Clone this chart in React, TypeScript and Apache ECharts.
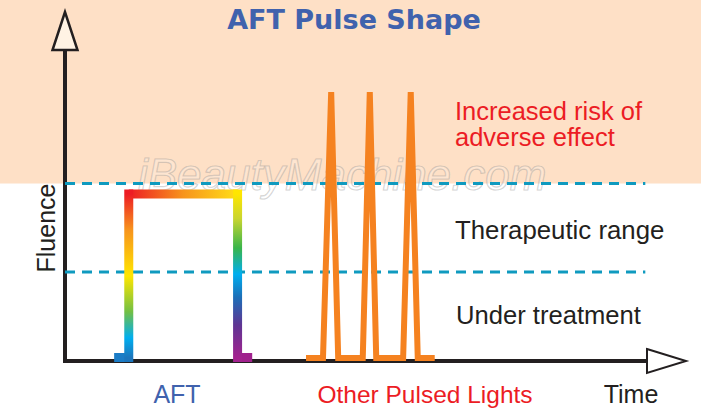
import React, { useEffect, useRef } from "react";
import * as echarts from "echarts";

// ---- text ----
const titleText = "AFT Pulse Shape";
const yAxisName = "Fluence";
const xAxisName = "Time";
const zoneLabels = ["Increased risk of", "adverse effect", "Therapeutic range", "Under treatment"];
const pulseLabels = ["AFT", "Other Pulsed Lights"];
const watermarkText = "iBeautyMachine.com";

// ---- scales ----
const timeRange = [0, 100];
const fluenceRange = [0, 100];
const upperThreshold = 57.1;
const lowerThreshold = 28.6;
const thresholdSpan = [0, 99.2];

// ---- AFT pulse (time, fluence) ----
const aftLeftFoot = [[8.4, 1.1], [10.9, 1.1]];
const aftRise = [[10.9, 1.1], [10.9, 53.7]];
const aftTop = [[10.9, 53.7], [29.5, 53.7]];
const aftFall = [[29.5, 53.7], [29.5, 1.1]];
const aftRightFoot = [[29.5, 1.1], [32.0, 1.1]];

// ---- other pulsed lights ----
const otherTime = [41.2, 44.1, 45.5, 46.7, 50.9, 52.1, 53.2, 57.8, 59.1, 60.3, 63.2];
const otherFluence = [1, 1, 86.5, 1, 1, 86.5, 1, 1, 86.5, 1, 1];

// ---- colours ----
const riseStops: [number, string][] = [
  [0, "#1b75bc"], [0.12, "#00aeef"], [0.28, "#72bf44"], [0.5, "#ffe600"], [0.78, "#f7941d"], [1, "#ed1c24"],
];
const topStops: [number, string][] = [[0, "#ed1c24"], [0.5, "#f7941d"], [1, "#ffde17"]];
const fallStops: [number, string][] = [
  [0, "#ffe600"], [0.15, "#c9d52f"], [0.33, "#39b54a"], [0.49, "#00aeef"], [0.63, "#1c6fb8"], [0.8, "#5e3593"], [1, "#a3228f"],
];

export default function App() {
  const ref = useRef<HTMLDivElement>(null);
  useEffect(() => {
    const el = ref.current!;
    const chart = echarts.init(el, null, { renderer: "svg" });
    const axisCommon = {
      type: "value" as const,
      axisLine: { show: true, lineStyle: { color: "#231f20", width: 4, cap: "square" } },
      axisTick: { show: false },
      axisLabel: { show: false },
      splitLine: { show: false },
    };
    const dashStyle = { color: "#0f9abf", width: 3, type: [10, 7] };
    const line = (name: string, data: number[][], lineStyle: any) => ({
      name,
      type: "line",
      data,
      symbol: "none",
      silent: true,
      lineStyle,
    });
    chart.setOption({
      animation: false,
      backgroundColor: "#ffffff",
      grid: { left: 65, right: 51, top: 50, bottom: 48 },
      xAxis: { ...axisCommon, min: timeRange[0], max: timeRange[1] },
      yAxis: { ...axisCommon, min: fluenceRange[0], max: fluenceRange[1] },
      series: [
        line("upper", thresholdSpan.map((t) => [t, upperThreshold]), dashStyle),
        line("lower", thresholdSpan.map((t) => [t, lowerThreshold]), dashStyle),
        line("other", otherTime.map((t, i) => [t, otherFluence[i]]), { color: "#f58220", width: 6, join: "miter" }),
        line("aftLeftFoot", aftLeftFoot, { color: "#1b7cc6", width: 9 }),
        line("aftRightFoot", aftRightFoot, { color: "#a0218d", width: 9 }),
        line("aftTop", aftTop, { color: "#f7941d", width: 9 }),
        line("aftRise", aftRise, { color: "#ffe600", width: 9, cap: "square" }),
        line("aftFall", aftFall, { color: "#39b54a", width: 9, cap: "square" }),
      ],
    });

    const px = (p: number[]) => chart.convertToPixel({ gridIndex: 0 }, p) as number[];
    const grad = (seg: number[][], stops: [number, string][]) => {
      const a = px(seg[0]);
      const b = px(seg[1]);
      return new echarts.graphic.LinearGradient(
        a[0], a[1], b[0], b[1],
        stops.map(([offset, color]) => ({ offset, color })),
        true
      );
    };
    const origin = px([timeRange[0], fluenceRange[0]]);
    const yTop = px([timeRange[0], fluenceRange[1]]);
    const xEnd = px([timeRange[1], fluenceRange[0]]);
    const upperPx = px([0, upperThreshold])[1];
    const W = el.clientWidth;

    const txt = (text: string, x: number, y: number, fill: string, align = "left", size = 25) => ({
      type: "text",
      x,
      y,
      z: 20,
      silent: true,
      style: {
        text, fill, align, verticalAlign: "middle",
        fontFamily: "Liberation Sans, Arial, sans-serif", fontSize: size,
      },
    });

    chart.setOption({
      series: [
        {},
        {},
        {},
        {},
        {},
        { lineStyle: { color: grad(aftTop, topStops) } },
        { lineStyle: { color: grad(aftRise, riseStops) } },
        { lineStyle: { color: grad(aftFall, fallStops) } },
      ],
      graphic: [
        {
          type: "rect",
          z: -10,
          silent: true,
          shape: { x: 0, y: 0, width: W, height: upperPx },
          style: { fill: "#fee0c6" },
        },
        {
          type: "text",
          z: -5,
          silent: true,
          x: 138,
          y: 174,
          style: {
            text: watermarkText,
            fontFamily: "Liberation Sans, Arial, sans-serif",
            fontSize: 44,
            fontStyle: "italic",
            fill: "rgba(255,255,255,0.2)",
            stroke: "rgba(140,140,140,0.4)",
            lineWidth: 1.2,
            verticalAlign: "middle",
          },
        },
        {
          type: "polygon",
          z: 20,
          silent: true,
          shape: { points: [[yTop[0], yTop[1] - 38], [yTop[0] - 12.5, yTop[1]], [yTop[0] + 12.5, yTop[1]]] },
          style: { fill: "#fff3e4", stroke: "#231f20", lineWidth: 2.5 },
        },
        {
          type: "polygon",
          z: 20,
          silent: true,
          shape: { points: [[xEnd[0] - 3, xEnd[1] - 12], [xEnd[0] + 36, xEnd[1]], [xEnd[0] - 3, xEnd[1] + 12]] },
          style: { fill: "#ffffff", stroke: "#231f20", lineWidth: 2 },
        },
        {
          type: "text",
          z: 20,
          silent: true,
          x: 354,
          y: 19,
          style: {
            text: titleText,
            fill: "#4062ad",
            fontFamily: "DejaVu Sans, Verdana, sans-serif",
            fontWeight: "bold",
            fontSize: 27,
            align: "center",
            verticalAlign: "middle",
          },
        },
        txt(zoneLabels[0], 455, 111, "#ec1c24", "left", 25.5),
        txt(zoneLabels[1], 455, 137, "#ec1c24", "left", 25.5),
        txt(zoneLabels[2], 455, 230, "#231f20", "left", 25.8),
        txt(zoneLabels[3], 456, 315, "#231f20", "left", 25.6),
        txt(pulseLabels[0], 177, 394, "#4062ad", "center"),
        txt(pulseLabels[1], 425, 394, "#ec1c24", "center", 24.5),
        txt(xAxisName, 631, 394, "#231f20", "center"),
        { ...txt(yAxisName, origin[0] - 19, 228, "#231f20", "center"), rotation: Math.PI / 2 },
      ],
    });

    return () => chart.dispose();
  }, []);
  return (
    <div
      ref={ref}
      style={{ position: "fixed", left: 0, top: 0, width: 701, height: 409, background: "#fff" }}
    />
  );
}
